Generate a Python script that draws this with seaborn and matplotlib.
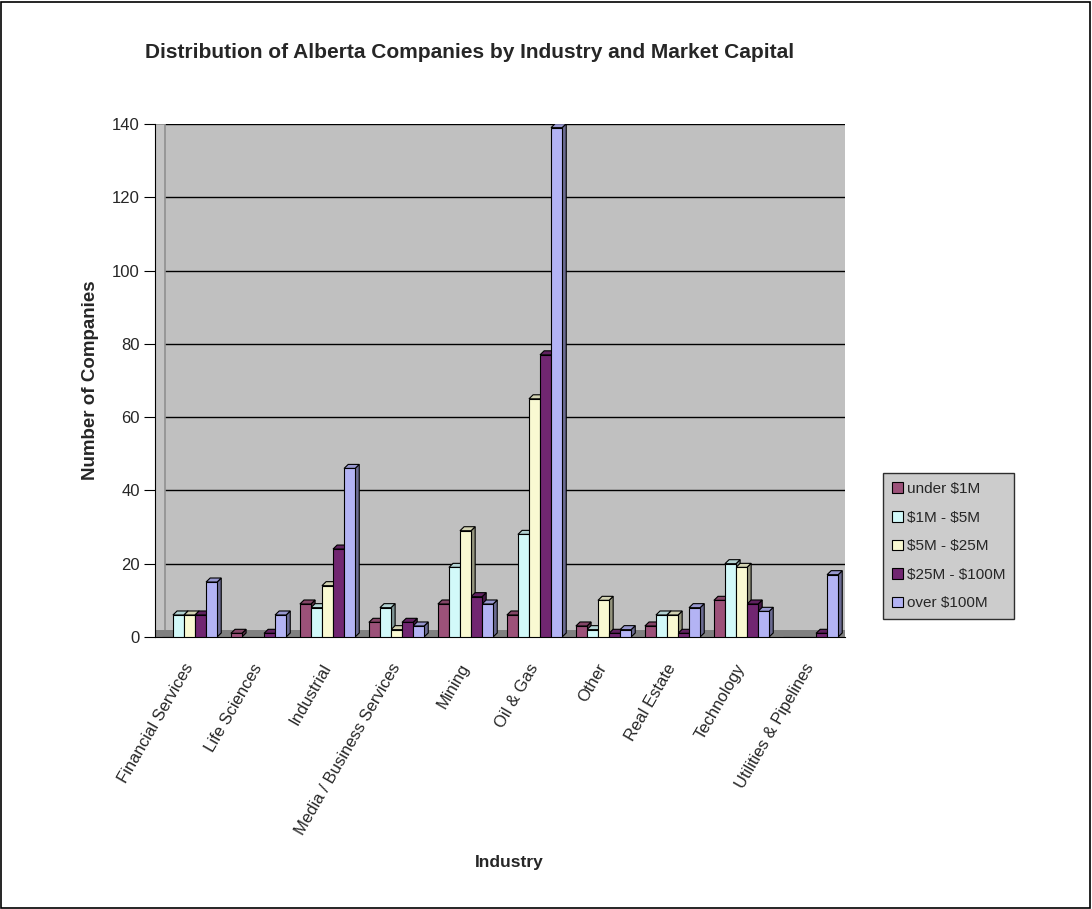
import pandas as pd
import numpy as np
import matplotlib.pyplot as plt
import seaborn as sns
from matplotlib.patches import Polygon, Rectangle
from matplotlib.colors import to_rgb

industries = ["Financial Services", "Life Sciences", "Industrial", "Media / Business Services",
              "Mining", "Oil & Gas", "Other", "Real Estate", "Technology", "Utilities & Pipelines"]
cap_classes = ["under $1M", "$1M - $5M", "$5M - $25M", "$25M - $100M", "over $100M"]

under_1m = [0, 1, 9, 4, 9, 6, 3, 3, 10, 0]
m1_5 = [6, 0, 8, 8, 19, 28, 2, 6, 20, 0]
m5_25 = [6, 0, 14, 2, 29, 65, 10, 6, 19, 0]
m25_100 = [6, 1, 24, 4, 11, 77, 1, 1, 9, 1]
over_100m = [15, 6, 46, 3, 9, 139, 2, 8, 7, 17]

colors = ["#A8457A", "#CCFFFF", "#FFFFCC", "#7D1A7D", "#A8A8FF"]

series = [under_1m, m1_5, m5_25, m25_100, over_100m]
rows = []
for cap, vals in zip(cap_classes, series):
    for ind, v in zip(industries, vals):
        rows.append({"Industry": ind, "Cap": cap, "Count": v})
df = pd.DataFrame(rows)

sns.set_style("white")
plt.rcParams['font.family'] = ['Liberation Sans', 'DejaVu Sans']

fig = plt.figure(figsize=(10.92, 9.09), dpi=100)
ax = fig.add_axes([155 / 1092, 1 - 637 / 909, 690 / 1092, 513 / 909])
ax.set_facecolor("#C0C0C0")

sns.barplot(data=df, x="Industry", y="Count", hue="Cap", order=industries,
            hue_order=cap_classes, palette=colors, width=0.8, edgecolor="black",
            linewidth=0.8, ax=ax, legend=True, zorder=3)

# fake 3D faces derived from the drawn bars
dx, dy = 0.06, 1.1
for p in list(ax.patches):
    h = p.get_height()
    if h <= 0 or p.get_width() <= 0:
        continue
    x, w = p.get_x(), p.get_width()
    c = np.array(to_rgb(p.get_facecolor()))
    side = Polygon([(x + w, 0), (x + w + dx, dy), (x + w + dx, h + dy), (x + w, h)],
                   closed=True, facecolor=c * 0.6, edgecolor="black", linewidth=0.8, zorder=2.9)
    top = Polygon([(x, h), (x + dx, h + dy), (x + w + dx, h + dy), (x + w, h)],
                  closed=True, facecolor=c * 0.85, edgecolor="black", linewidth=0.8, zorder=2.9)
    ax.add_patch(side)
    ax.add_patch(top)

ax.set_ylim(0, 140)
ax.set_xlim(-0.5, len(industries) - 0.5)
ax.set_yticks(range(0, 141, 20))
for yv in range(20, 141, 20):
    ax.axhline(yv, xmin=0.015, color="black", linewidth=1, zorder=1)
# left wall and floor
ax.add_patch(Rectangle((-0.5, 0), 0.15, 140, facecolor="#C4C4C4",
                       edgecolor="#909090", linewidth=1.2, zorder=1.2))
ax.add_patch(Rectangle((-0.5, 0), len(industries), 2, facecolor="#808080",
                       edgecolor="none", zorder=1.5))

ax.set_xticks(range(len(industries)))
ax.set_xticklabels(industries, rotation=60, ha="right", va="center",
                   rotation_mode="anchor", fontsize=12)
ax.tick_params(axis="x", length=0, pad=20)
ax.set_xticks(np.arange(-0.5, len(industries), 1), minor=True)
ax.tick_params(axis="x", which="minor", length=10, direction="out", color="black")
ax.tick_params(axis="y", length=8, direction="out", labelsize=12, color="black", left=True, pad=3)

for s in ["top", "right"]:
    ax.spines[s].set_visible(False)
ax.spines["left"].set_color("black")
ax.spines["bottom"].set_color("black")

ax.set_xlabel("Industry", fontsize=12.5, fontweight="bold")
ax.set_ylabel("Number of Companies", fontsize=13.5, fontweight="bold")
ax.xaxis.set_label_coords((509 - 155) / 690, -(855 - 637) / 513)
ax.yaxis.set_label_coords(-(155 - 99) / 690, 0.5)

fig.text(470 / 1092, 1 - 52 / 909, "Distribution of Alberta Companies by Industry and Market Capital",
         ha="center", va="center", fontsize=15, fontweight="bold")

leg = ax.legend(loc="upper left", bbox_to_anchor=(883 / 1092, 1 - 473 / 909),
                bbox_transform=fig.transFigure, frameon=True, fancybox=False,
                facecolor="#C0C0C0", edgecolor="black", fontsize=11, handlelength=0.7,
                handleheight=0.7, handletextpad=0.25, labelspacing=0.95, borderpad=0.6,
                borderaxespad=0)
leg.get_frame().set_linewidth(1)
for t in leg.get_texts():
    t.set_parse_math(False)

fig.add_artist(Rectangle((0.001, 0.001), 0.997, 0.997, transform=fig.transFigure,
                         fill=False, edgecolor="black", linewidth=1.2))

fig.savefig("out.png", dpi=100)
